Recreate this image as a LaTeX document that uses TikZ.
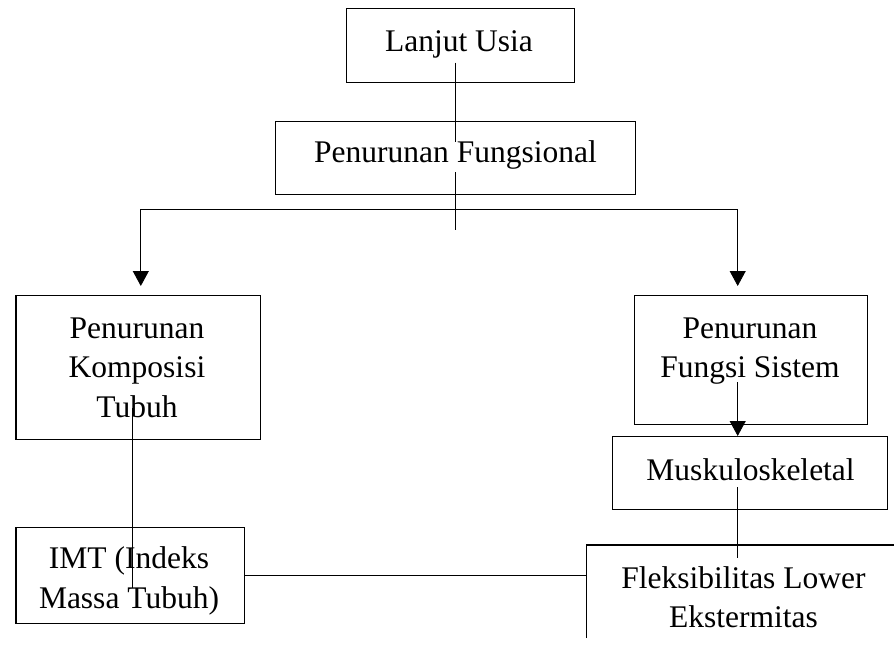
\documentclass[tikz,border=0pt]{standalone}
\usepackage{fontspec}
\setmainfont{Liberation Serif}
\usetikzlibrary{arrows.meta}
\begin{document}
\begin{tikzpicture}[x=1pt,y=-1pt,
  box/.style={draw, rectangle, line width=1.1pt, inner sep=0pt, anchor=north west},
  txt/.style={anchor=base, inner sep=0pt, font=\fontsize{31.5}{39.7}\selectfont},
  conn/.style={line width=0.9pt},
  arr/.style={conn, -{Triangle[width=16pt,length=15pt]}}]
\useasboundingbox (0,0) rectangle (894,650);
% boxes
\node[box, minimum width=228.5pt, minimum height=73.4pt] (lu) at (345.5,8.3) {};
\node[box, minimum width=359.7pt, minimum height=73.6pt] (pf) at (274.8,120.7) {};
\node[box, minimum width=244.6pt, minimum height=144.3pt] (pk) at (15.4,295) {};
\node[box, minimum width=233pt, minimum height=129.3pt] (ps) at (634,294.7) {};
\node[box, minimum width=274.8pt, minimum height=73.3pt] (mu) at (611.7,436) {};
\node[box, minimum width=228.6pt, minimum height=96pt] (imt) at (15.4,527.3) {};
\coordinate (flbl) at (586.7,638);
\coordinate (fltl) at (586.7,545);
\coordinate (fltr) at (894,545);
\draw[line width=1.1pt] (flbl) -- (fltl) -- (fltr);
% texts
\node[txt] (lut) at (459,51.7) {Lanjut Usia};
\node[txt] (pft) at (455.5,162.7) {Penurunan Fungsional};
\node[txt] (pkt) at (137,338) {\begin{tabular}[t]{@{}c@{}}Penurunan\\Komposisi\\Tubuh\end{tabular}};
\node[txt] (pst) at (750,338) {\begin{tabular}[t]{@{}c@{}}Penurunan\\Fungsi Sistem\end{tabular}};
\node[txt] (mut) at (750.6,480) {Muskuloskeletal};
\node[txt] (imtt) at (129,568.3) {\begin{tabular}[t]{@{}c@{}}IMT (Indeks\\Massa Tubuh)\end{tabular}};
\node[txt] (flt) at (743.5,588) {\begin{tabular}[t]{@{}c@{}}Fleksibilitas Lower\\Ekstermitas\end{tabular}};
% connectors
\coordinate (a1) at (455.5,62.7);
\coordinate (a2) at (455.5,141.7);
\draw[conn] (a1) -- (a2);
\coordinate (b1) at (455.5,172);
\coordinate (b2) at (455.5,230);
\draw[conn] (b1) -- (b2);
\coordinate (hl) at (140.8,209);
\coordinate (hr) at (737.7,209);
\coordinate (tl) at (140.8,286);
\coordinate (tr) at (737.7,286);
\draw[arr] (hr) -- (hl) -- (tl);
\draw[arr] (hl) -- (hr) -- (tr);
\coordinate (c1) at (737.7,382.3);
\coordinate (c2) at (737.7,436);
\draw[arr] (c1) -- (c2);
\coordinate (d1) at (737.7,487.3);
\coordinate (d2) at (737.7,558.3);
\draw[conn] (d1) -- (d2);
\coordinate (e1) at (132.3,408);
\coordinate (e2) at (132.3,588);
\draw[conn] (e1) -- (e2);
\draw[conn] (imt.east) -- (imt.east -| fltl);
\end{tikzpicture}
\end{document}
